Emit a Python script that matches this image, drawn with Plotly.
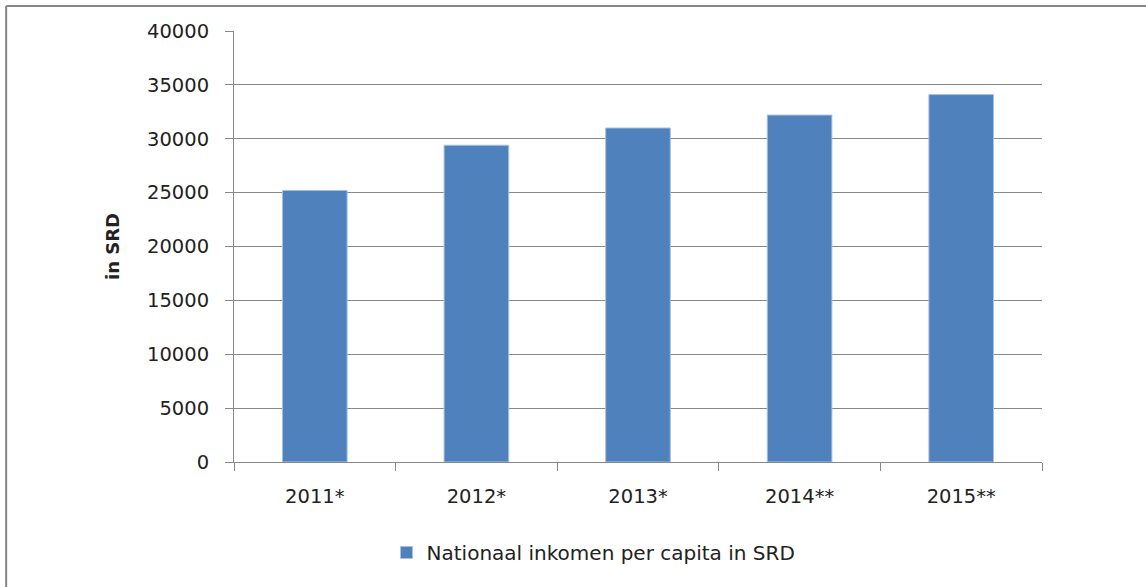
import plotly.graph_objects as go

categories = ["2011*", "2012*", "2013*", "2014**", "2015**"]
values = [25200, 29400, 31000, 32200, 34100]
series_name = "Nationaal inkomen per capita in SRD"
y_ticks = [0, 5000, 10000, 15000, 20000, 25000, 30000, 35000, 40000]
y_tick_text = [str(v) for v in y_ticks]

fig = go.Figure()
fig.add_trace(go.Bar(
    x=categories, y=values, name=series_name,
    marker=dict(color="#4F81BD", line=dict(color="#a9c0e0", width=1)),
    width=0.4, showlegend=True,
))

tick_font = dict(family="DejaVu Sans, Verdana, sans-serif", size=19.5, color="#222222")

fig.update_layout(
    width=1146, height=587,
    margin=dict(l=234, r=104, t=31, b=125),
    paper_bgcolor="white", plot_bgcolor="white",
    showlegend=True,
    legend=dict(orientation="h", x=0.445, xanchor="center", y=-0.21, yanchor="middle",
                font=dict(family="DejaVu Sans, sans-serif", size=20, color="#222222"),
                itemwidth=30),
    xaxis=dict(
        type="category", tickson="boundaries", ticks="outside", ticklen=8,
        tickcolor="#888888", showline=True, linecolor="#888888", linewidth=1,
        showgrid=False, tickfont=tick_font, ticklabelstandoff=17,
    ),
    yaxis=dict(
        range=[0, 40000], tickvals=y_ticks, ticktext=y_tick_text, ticks="outside", ticklen=8,
        tickcolor="#888888", showline=True, linecolor="#888888", linewidth=1,
        showgrid=True, gridcolor="#888888", gridwidth=1, zeroline=False,
        tickfont=tick_font, ticklabelstandoff=12,
        title=dict(text="<b>in SRD</b>", standoff=22,
                   font=dict(family="DejaVu Sans, sans-serif", size=18, color="#222222")),
    ),
    bargap=0.6,
)

# outer chart frame (top and left edges visible)
fig.add_shape(type="line", xref="paper", yref="paper", x0=-0.282, x1=1.2, y0=1.058, y1=1.058,
              line=dict(color="#868686", width=2))
fig.add_shape(type="line", xref="paper", yref="paper", x0=-0.282, x1=-0.282, y0=1.058, y1=-0.4,
              line=dict(color="#868686", width=2))

fig.write_html("out.html", config={"displayModeBar": False},
               post_script="document.body.style.margin='0';")
